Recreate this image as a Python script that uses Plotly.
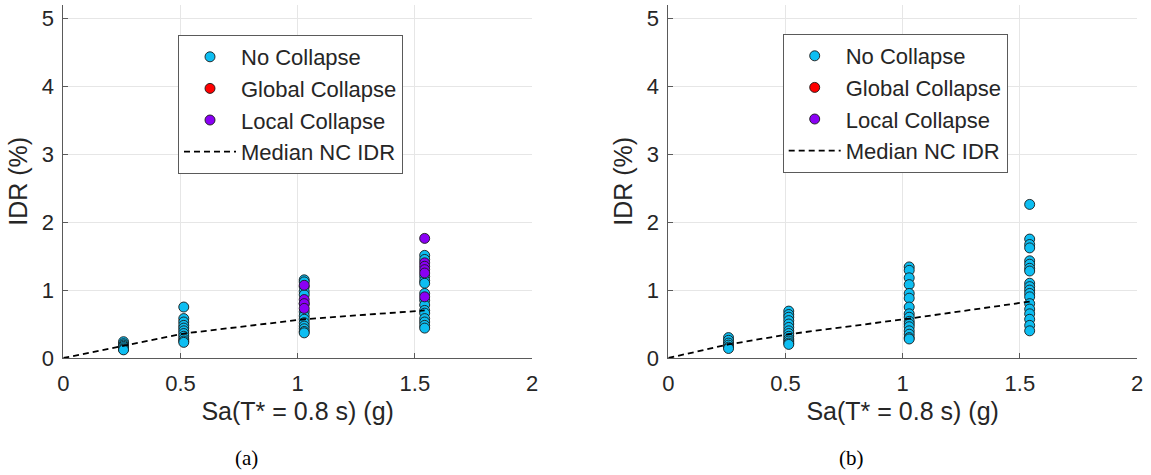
import plotly.graph_objects as go

# Spectral acceleration levels Sa(T* = 0.8 s) in g
SA_LEVELS = [0.257, 0.514, 1.028, 1.542]

# (a) peak interstory drift ratios (%), one list per Sa level
A_NO_COLLAPSE = [
    [0.24, 0.21, 0.19, 0.17, 0.15, 0.13, 0.12],
    [0.75, 0.58, 0.53, 0.48, 0.44, 0.40, 0.36, 0.32, 0.28, 0.25, 0.23],
    [1.15, 1.12, 1.05, 0.98, 0.93, 0.80, 0.68, 0.62, 0.57, 0.52, 0.47, 0.43, 0.39, 0.37],
    [1.51, 1.45, 1.20, 1.14, 1.10, 0.95, 0.85, 0.78, 0.70, 0.66, 0.58, 0.53, 0.48, 0.44],
]
A_GLOBAL_COLLAPSE = [[], [], [], []]
A_LOCAL_COLLAPSE = [
    [],
    [],
    [1.07, 0.86, 0.80, 0.73],
    [1.76, 1.40, 1.35, 1.30, 1.25, 0.90],
]
A_MEDIAN_SA = [0, 0.257, 0.514, 1.028, 1.542]
A_MEDIAN_IDR = [0, 0.18, 0.36, 0.57, 0.70]

# (b) peak interstory drift ratios (%)
B_NO_COLLAPSE = [
    [0.30, 0.26, 0.22, 0.19, 0.16, 0.14],
    [0.69, 0.64, 0.60, 0.55, 0.50, 0.45, 0.40, 0.36, 0.32, 0.28, 0.25, 0.22, 0.20],
    [1.34, 1.29, 1.18, 1.08, 0.95, 0.88, 0.75, 0.65, 0.60, 0.54, 0.50, 0.46, 0.40, 0.35, 0.30, 0.28],
    [2.26, 1.75, 1.67, 1.62, 1.43, 1.38, 1.32, 1.28, 1.10, 1.05, 1.00, 0.95, 0.90, 0.80, 0.72,
     0.65, 0.57, 0.48, 0.40],
]
B_GLOBAL_COLLAPSE = [[], [], [], []]
B_LOCAL_COLLAPSE = [[], [], [], []]
B_MEDIAN_SA = [0, 0.257, 0.514, 1.028, 1.542]
B_MEDIAN_IDR = [0, 0.20, 0.35, 0.58, 0.83]

X_TICKS = [0, 0.5, 1, 1.5, 2]
Y_TICKS = [0, 1, 2, 3, 4, 5]

CLR_NC = "#0DBEF2"
CLR_GC = "#FF0000"
CLR_LC = "#8A00F5"
TXT = "#262626"
FONT = "Liberation Sans, Arial, sans-serif"

W, H = 1151, 475


def flatten(groups):
    xs, ys = [], []
    for sa, vals in zip(SA_LEVELS, groups):
        xs += [sa] * len(vals)
        ys += vals
    return xs, ys


fig = go.Figure()

panels = [
    ("x", "y", "legend", A_NO_COLLAPSE, A_GLOBAL_COLLAPSE, A_LOCAL_COLLAPSE, A_MEDIAN_SA, A_MEDIAN_IDR),
    ("x2", "y2", "legend2", B_NO_COLLAPSE, B_GLOBAL_COLLAPSE, B_LOCAL_COLLAPSE, B_MEDIAN_SA, B_MEDIAN_IDR),
]

for xa, ya, leg, nc, gc, lc, msa, midr in panels:
    for name, groups, color, rank in [
        ("No Collapse", nc, CLR_NC, 1),
        ("Global Collapse", gc, CLR_GC, 2),
        ("Local Collapse", lc, CLR_LC, 3),
    ]:
        xs, ys = flatten(groups)
        if not xs:
            xs, ys = [None], [None]
        fig.add_trace(go.Scatter(
            x=xs, y=ys, mode="markers", name=name, xaxis=xa, yaxis=ya,
            legend=leg, legendrank=rank,
            marker=dict(size=10, color=color, line=dict(color="#1a1a1a", width=0.9)),
        ))
    fig.add_trace(go.Scatter(
        x=msa, y=midr, mode="lines", name="Median NC IDR", xaxis=xa, yaxis=ya,
        legend=leg, legendrank=4,
        line=dict(color="black", width=1.8, dash="6px,4px"),
    ))

axis_common = dict(
    showline=True, linecolor="#5a5a5a", linewidth=1,
    ticks="inside", ticklen=5, tickcolor="#5a5a5a", tickwidth=1,
    showgrid=True, gridcolor="#e6e6e6", gridwidth=1,
    zeroline=False, mirror=False, automargin=False,
    tickfont=dict(family=FONT, size=22, color=TXT),
)

xdom_a = [63.3 / W, 532 / W]
xdom_b = [668.3 / W, 1137 / W]
ydom = [1 - 358 / H, 1 - 4.6 / H]

for key, dom, anchor in [("xaxis", xdom_a, "y"), ("xaxis2", xdom_b, "y2")]:
    fig.layout[key] = dict(
        axis_common, domain=dom, anchor=anchor, range=[0, 2],
        tickvals=X_TICKS, ticktext=[f"{v:g}" for v in X_TICKS],
        ticklabelstandoff=6,
        title=dict(text="Sa(T* = 0.8 s) (g)", font=dict(family=FONT, size=25, color=TXT), standoff=7),
    )
for key, anchor in [("yaxis", "x"), ("yaxis2", "x2")]:
    fig.layout[key] = dict(
        axis_common, domain=ydom, anchor=anchor, range=[0, 5.2],
        tickvals=Y_TICKS, ticktext=[str(v) for v in Y_TICKS],
        ticklabelstandoff=4,
        title=dict(text="IDR (%)", font=dict(family=FONT, size=25, color=TXT), standoff=6),
    )

legend_common = dict(
    bgcolor="white", bordercolor="#5a5a5a", borderwidth=1,
    font=dict(family=FONT, size=22, color=TXT),
    itemwidth=52, xanchor="left", yanchor="top", tracegroupgap=0,
)
fig.layout.legend = dict(legend_common, x=178 / W, y=1 - 35 / H)
fig.layout.legend2 = dict(legend_common, x=782.7 / W, y=1 - 34 / H)

for label, cx in [("(a)", 246), ("(b)", 851)]:
    fig.add_annotation(
        text=label, x=cx / W, y=1 - 458 / H, xref="paper", yref="paper",
        showarrow=False, xanchor="center", yanchor="middle",
        font=dict(family="Liberation Serif, Times New Roman, serif", size=21, color="black"),
    )

fig.update_layout(
    width=W, height=H, margin=dict(l=0, r=0, t=0, b=0),
    paper_bgcolor="white", plot_bgcolor="white", showlegend=True,
)

fig.write_html("out.html")
